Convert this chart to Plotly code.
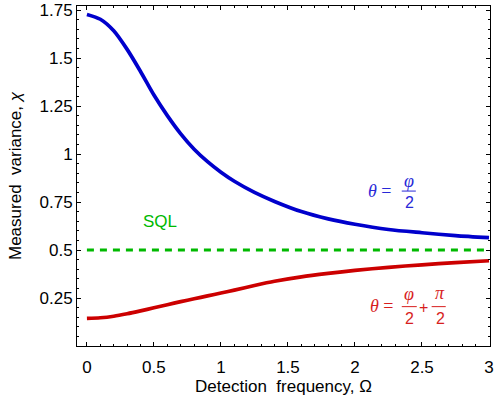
import plotly.graph_objects as go

# Data
blue_x = [0, 0.1, 0.2, 0.3, 0.4, 0.5, 0.6, 0.7, 0.8, 0.9, 1.0, 1.1, 1.25, 1.4, 1.6, 1.8, 2.0, 2.25, 2.5, 2.75, 3.0]
blue_y = [1.727, 1.702, 1.642, 1.545, 1.430, 1.307, 1.200, 1.105, 1.025, 0.960, 0.905, 0.858, 0.800, 0.753, 0.700, 0.662, 0.634, 0.607, 0.590, 0.575, 0.564]

red_x = [0, 0.1, 0.2, 0.3, 0.4, 0.5, 0.6, 0.7, 0.8, 0.9, 1.0, 1.1, 1.25, 1.4, 1.6, 1.8, 2.0, 2.25, 2.5, 2.75, 3.0]
red_y = [0.144, 0.147, 0.155, 0.168, 0.183, 0.199, 0.215, 0.231, 0.246, 0.261, 0.276, 0.291, 0.315, 0.337, 0.360, 0.378, 0.394, 0.410, 0.423, 0.434, 0.444]

sql_x = [0, 3.0]
sql_y = [0.5, 0.5]

x_ticks = [0, 0.5, 1, 1.5, 2, 2.5, 3]
x_tick_labels = ["0", "0.5", "1", "1.5", "2", "2.5", "3"]
y_ticks = [0.25, 0.5, 0.75, 1, 1.25, 1.5, 1.75]
y_tick_labels = ["0.25", "0.5", "0.75", "1", "1.25", "1.5", "1.75"]

BLUE = "rgb(0,0,204)"
RED = "rgb(204,0,0)"
GREEN = "rgb(0,185,0)"
BLUE_T = "rgb(40,40,215)"
RED_T = "rgb(215,30,30)"

fig = go.Figure()
fig.add_trace(go.Scatter(x=sql_x, y=sql_y, mode="lines",
                         line=dict(color=GREEN, width=3, dash="7px,6px"), showlegend=False))
fig.add_trace(go.Scatter(x=blue_x, y=blue_y, mode="lines", line_shape="spline",
                         line=dict(color=BLUE, width=3.7, smoothing=0.8), showlegend=False))
fig.add_trace(go.Scatter(x=red_x, y=red_y, mode="lines", line_shape="spline",
                         line=dict(color=RED, width=3.7, smoothing=0.8), showlegend=False))

SERIF = "Liberation Serif"
SANS = "Liberation Sans"

def txt(x, y, t, color, fam=SANS, size=16):
    fig.add_annotation(x=x, y=y, xref="x", yref="y", text=t, showarrow=False,
                       font=dict(family=fam, size=size, color=color),
                       xanchor="center", yanchor="middle")

def bar(x0, x1, y, color):
    fig.add_shape(type="line", x0=x0, x1=x1, y0=y, y1=y, xref="x", yref="y",
                  line=dict(color=color, width=1))

# SQL label
txt(0.543, 0.651, "SQL", GREEN, SANS, 17)

# Blue label  theta = phi/2
txt(2.19, 0.807, "<i>θ</i> =", BLUE_T, SERIF, 18)
txt(2.405, 0.858, "<i>φ</i>", BLUE_T, SERIF, 18)
bar(2.349, 2.454, 0.807, BLUE_T)
txt(2.405, 0.747, "2", BLUE_T, SANS, 16)

# Red label theta = phi/2 + pi/2
txt(2.20, 0.208, "<i>θ</i> =", RED_T, SERIF, 18)
txt(2.405, 0.27, "<i>φ</i>", RED_T, SERIF, 18)
bar(2.349, 2.461, 0.205, RED_T)
txt(2.405, 0.141, "2", RED_T, SANS, 16)
txt(2.513, 0.203, "+", RED_T, SANS, 16)
txt(2.632, 0.275, "<i>π</i>", RED_T, SERIF, 18)
bar(2.572, 2.677, 0.205, RED_T)
txt(2.636, 0.141, "2", RED_T, SANS, 16)

axis_common = dict(showline=True, linecolor="black", linewidth=1, mirror="ticks",
                   ticks="inside", ticklen=4, tickcolor="black", tickwidth=1,
                   showgrid=False, zeroline=False, ticklabeloverflow="allow",
                   tickfont=dict(family=SANS, size=17, color="black"))

fig.update_layout(
    width=494, height=401,
    margin=dict(l=77, r=0, t=6, b=55),
    paper_bgcolor="white", plot_bgcolor="white",
    xaxis=dict(range=[-0.074, 3.0074], tickvals=x_ticks, ticktext=x_tick_labels,
               minor=dict(dtick=0.1, tick0=0, ticks="inside", ticklen=2, tickcolor="black"),
               ticklabelstandoff=6,
               title=dict(text="Detection  frequency, Ω", standoff=2,
                          font=dict(family=SANS, size=17, color="black")),
               **axis_common),
    yaxis=dict(range=[0, 1.771], tickvals=y_ticks, ticktext=y_tick_labels,
               minor=dict(dtick=0.05, tick0=0, ticks="inside", ticklen=2, tickcolor="black"),
               title=dict(text="Measured  variance, <i>χ</i>", standoff=13,
                          font=dict(family=SANS, size=17, color="black")),
               **axis_common),
)

fig.write_html("out.html")
